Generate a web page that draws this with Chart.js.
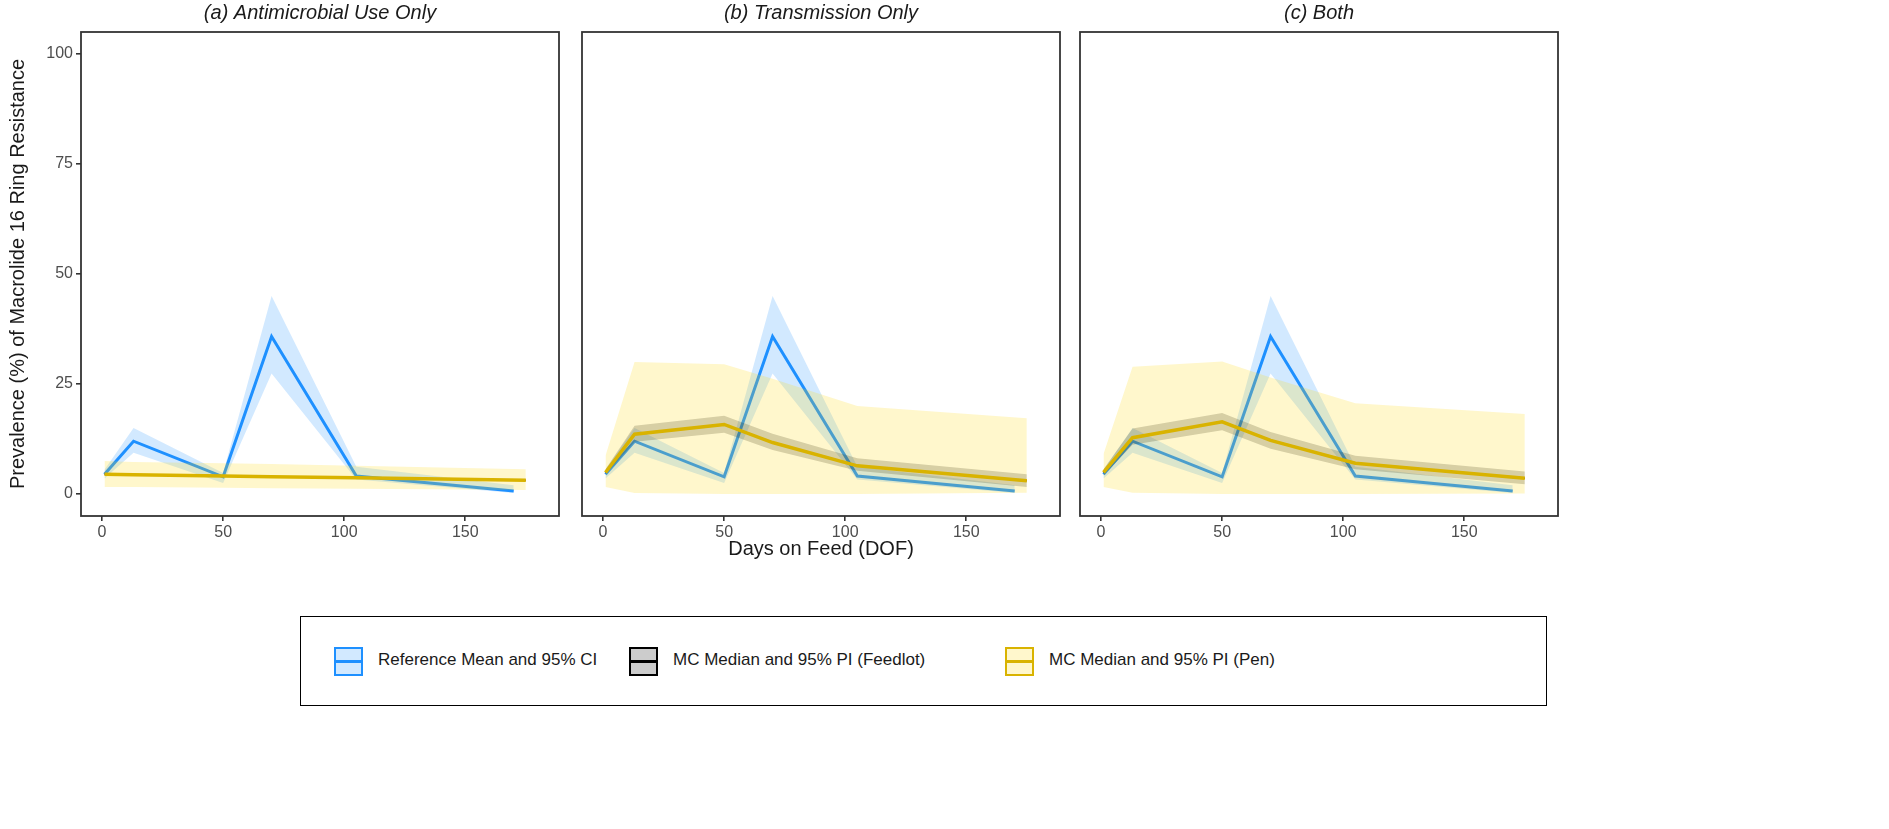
<!DOCTYPE html>
<html>
<head>
<meta charset="utf-8">
<script src="https://cdn.jsdelivr.net/npm/chart.js@4.4.1/dist/chart.umd.min.js"></script>
<style>
  body { margin: 0; background: #fff; width: 1889px; height: 829px; position: relative; overflow: hidden;
         font-family: 'Liberation Sans', Arial, sans-serif; }
  .panel { position: absolute; top: 0; height: 570px; }
  #legend { position: absolute; left: 300px; top: 616px; width: 1245px; height: 88px; border: 1.5px solid #000; }
  .key { position: absolute; top: 30px; width: 25px; height: 25px; border: 2px solid; }
  .key span { position: absolute; left: 0; right: 0; top: 11px; height: 3px; }
  .lab { position: absolute; top: 33px; font-size: 17px; color: #1a1a1a; white-space: nowrap; }
</style>
</head>
<body>
<div class="panel" style="left:0;width:561px"><canvas id="panelA"></canvas></div>
<div class="panel" style="left:572px;width:498px"><canvas id="panelB"></canvas></div>
<div class="panel" style="left:1070px;width:498px"><canvas id="panelC"></canvas></div>
<div id="legend"></div>
<script>
// days on feed
var refDays = [1, 13, 50, 70, 105, 170];
var mcDays = [1, 13, 50, 70, 105, 175];
var xTicks = [0, 50, 100, 150];
var yTicks = [0, 25, 50, 75, 100];

// reference mean and 95% CI (same in every panel)
var refMean = [4.5, 12.0, 3.9, 35.8, 4.1, 0.7];
var refLow = [3.5, 9.4, 2.5, 27.4, 3.3, 0.2];
var refHigh = [5.5, 15.0, 4.8, 45.0, 6.2, 2.0];

// (a) antimicrobial use only
var penMedA = [4.5, 4.4, 4.1, 3.9, 3.7, 3.1];
var penLowA = [1.6, 1.6, 1.4, 1.3, 1.2, 0.9];
var penHighA = [7.5, 7.3, 7.0, 6.8, 6.4, 5.6];
var feedMedA = [4.5, 4.4, 4.1, 3.9, 3.7, 3.1];
var feedLowA = [4.3, 4.2, 3.9, 3.7, 3.5, 2.9];
var feedHighA = [4.7, 4.6, 4.3, 4.1, 3.9, 3.3];

// (b) transmission only
var penMedB = [4.9, 13.6, 15.8, 11.7, 6.4, 3.0];
var penLowB = [1.6, 0.2, 0, 0, 0, 0.3];
var penHighB = [8.7, 30.0, 29.5, 26.2, 20.0, 17.2];
var feedMedB = [4.9, 13.6, 15.8, 11.7, 6.4, 3.0];
var feedLowB = [4.4, 11.9, 13.9, 10.0, 5.3, 1.6];
var feedHighB = [5.6, 15.5, 17.8, 13.7, 8.1, 4.5];

// (c) both
var penMedC = [4.9, 12.8, 16.4, 12.2, 7.0, 3.6];
var penLowC = [1.6, 0.3, 0, 0, 0, 0.1];
var penHighC = [9.1, 28.9, 30.1, 26.5, 20.6, 18.2];
var feedMedC = [4.9, 12.8, 16.4, 12.2, 7.0, 3.6];
var feedLowC = [4.2, 11.2, 14.5, 10.3, 5.6, 2.2];
var feedHighC = [5.6, 14.9, 18.4, 14.1, 8.7, 5.1];

var seriesNames = ["Reference Mean and 95% CI", "MC Median and 95% PI (Feedlot)", "MC Median and 95% PI (Pen)"];
var lineColors = ["#1E90FF", "#000000", "#D9B300"];
var fillColors = ["rgba(30,144,255,0.2)", "rgba(0,0,0,0.2)", "rgba(255,215,0,0.2)"];

Chart.defaults.font.family = "'Liberation Sans', Arial, sans-serif";

function pts(days, vals) {
	return days.map(function(d, i){ return {x: d, y: vals[i]}; });
}

function band(days, low, high, color, order) {
	return [
		{ data: pts(days, low), borderColor: "rgba(0,0,0,0)", borderWidth: 0, pointRadius: 0, fill: false, order: order },
		{ data: pts(days, high), borderColor: "rgba(0,0,0,0)", borderWidth: 0, pointRadius: 0, fill: "-1", backgroundColor: color, order: order }
	];
}

function line(days, vals, color, width, order) {
	return { data: pts(days, vals), borderColor: color, borderWidth: width, pointRadius: 0, fill: false, tension: 0, order: order };
}

var framePlugin = {
	id: "frame",
	afterDraw: function(chart) {
		var a = chart.chartArea, ctx = chart.ctx;
		ctx.save();
		ctx.strokeStyle = "#333";
		ctx.lineWidth = 1.8;
		ctx.strokeRect(a.left, a.top, a.right - a.left, a.bottom - a.top);
		ctx.fillStyle = "#1a1a1a";
		ctx.font = "italic 20px 'Liberation Sans', Arial, sans-serif";
		ctx.textAlign = "center";
		ctx.textBaseline = "middle";
		ctx.fillText(chart.options.panelTitle, (a.left + a.right) / 2, 13);
		ctx.restore();
	}
};

function makePanel(id, title, penMed, penLow, penHigh, feedMed, feedLow, feedHigh, showY, showXTitle) {
	var datasets = []
		.concat(band(refDays, refLow, refHigh, fillColors[0], 6))
		.concat([line(refDays, refMean, lineColors[0], 3, 5)])
		.concat(band(mcDays, feedLow, feedHigh, fillColors[1], 4))
		.concat(band(mcDays, penLow, penHigh, fillColors[2], 3))
		.concat([line(mcDays, feedMed, "#555", 1.5, 2)])
		.concat([line(mcDays, penMed, lineColors[2], 3.5, 1)]);

	new Chart(id, {
		type: "line",
		data: { datasets: datasets },
		plugins: [framePlugin],
		options: {
			panelTitle: title,
			animation: false,
			responsive: true,
			maintainAspectRatio: false,
			layout: { padding: { top: 32, left: showY ? 6 : 10, right: showY ? 2 : 10, bottom: 0 } },
			plugins: { legend: { display: false }, tooltip: { enabled: false } },
			scales: {
				x: {
					type: "linear",
					min: -8.7,
					max: 188.7,
					afterBuildTicks: function(s){ s.ticks = xTicks.map(function(v){ return {value: v}; }); },
					afterFit: function(s){ s.height = 54; },
					border: { display: false },
					grid: { drawOnChartArea: false, drawTicks: true, tickLength: 5, color: "#333", lineWidth: 1.6 },
					ticks: { color: "#4D4D4D", font: { size: 16 }, padding: 2, maxRotation: 0 },
					title: { display: showXTitle, text: "Days on Feed (DOF)", color: "#1a1a1a", font: { size: 20 }, padding: { top: 0, bottom: 9 } }
				},
				y: {
					display: showY,
					min: -5,
					max: 105,
					afterBuildTicks: function(s){ s.ticks = yTicks.map(function(v){ return {value: v}; }); },
					afterFit: function(s){ if (showY) s.width = 75; },
					border: { display: false },
					grid: { drawOnChartArea: false, drawTicks: true, tickLength: 5, color: "#333", lineWidth: 1.6 },
					ticks: { color: "#4D4D4D", font: { size: 16 }, padding: 3 },
					title: { display: showY, text: "Prevalence (%) of Macrolide 16 Ring Resistance", color: "#1a1a1a", font: { size: 20 }, padding: 0 }
				}
			}
		}
	});
}

makePanel("panelA", "(a) Antimicrobial Use Only", penMedA, penLowA, penHighA, feedMedA, feedLowA, feedHighA, true, false);
makePanel("panelB", "(b) Transmission Only", penMedB, penLowB, penHighB, feedMedB, feedLowB, feedHighB, false, true);
makePanel("panelC", "(c) Both", penMedC, penLowC, penHighC, feedMedC, feedLowC, feedHighC, false, false);

// legend
var keyLeft = [33, 328, 704];
var legend = document.getElementById("legend");
seriesNames.forEach(function(name, i){
	var key = document.createElement("div");
	key.className = "key";
	key.style.left = keyLeft[i] + "px";
	key.style.borderColor = lineColors[i];
	key.style.background = fillColors[i];
	var bar = document.createElement("span");
	bar.style.background = lineColors[i];
	key.appendChild(bar);
	legend.appendChild(key);
	var lab = document.createElement("div");
	lab.className = "lab";
	lab.style.left = (keyLeft[i] + 44) + "px";
	lab.textContent = name;
	legend.appendChild(lab);
});
</script>
</body>
</html>
